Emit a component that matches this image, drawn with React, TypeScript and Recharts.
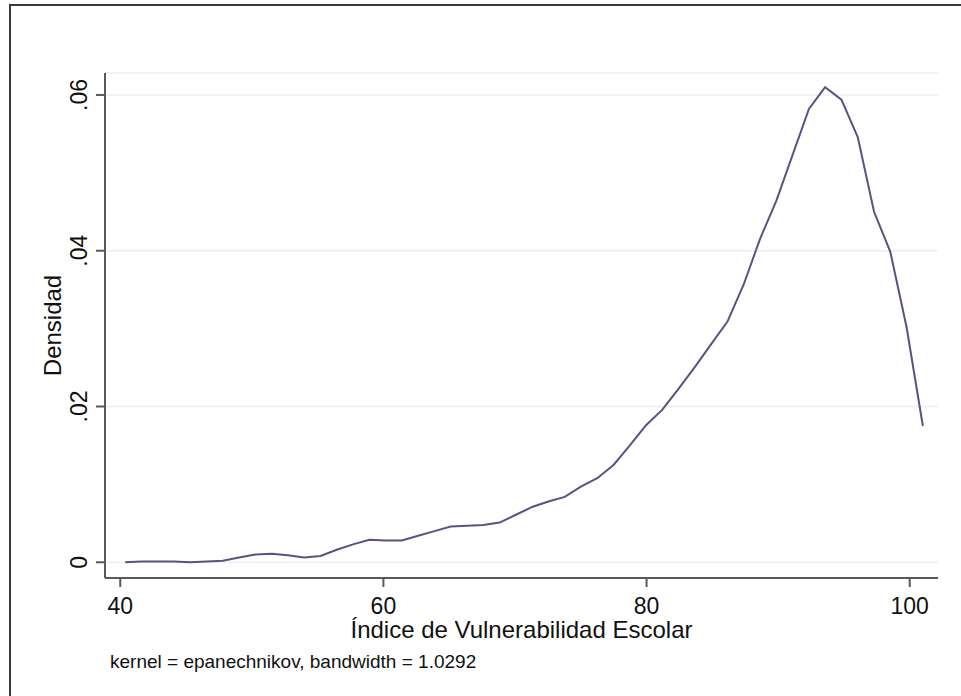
import { LineChart, Line, XAxis, YAxis, CartesianGrid, Label } from 'recharts';

// kdensity evaluation points (50 points between min and max of the index)
const indice = [
  40.37, 41.61, 42.84, 44.08, 45.32, 46.56, 47.79, 49.03, 50.27, 51.51,
  52.74, 53.98, 55.22, 56.45, 57.69, 58.93, 60.17, 61.4, 62.64, 63.88,
  65.12, 66.35, 67.59, 68.83, 70.07, 71.3, 72.54, 73.78, 75.01, 76.25,
  77.49, 78.73, 79.96, 81.2, 82.44, 83.68, 84.91, 86.15, 87.39, 88.62,
  89.86, 91.1, 92.34, 93.57, 94.81, 96.05, 97.29, 98.52, 99.76, 101.0,
];

const densidad = [
  0.0, 0.0001, 0.0001, 0.0001, 0.0, 0.0001, 0.0002, 0.0006, 0.001, 0.0011,
  0.0009, 0.0006, 0.0008, 0.0016, 0.0023, 0.0029, 0.0028, 0.0028, 0.0034, 0.004,
  0.0046, 0.0047, 0.0048, 0.0051, 0.0061, 0.0071, 0.0078, 0.0084, 0.0097, 0.0108,
  0.0125, 0.015, 0.0176, 0.0196, 0.0223, 0.0251, 0.028, 0.0309, 0.0357, 0.0415,
  0.0464, 0.0523, 0.0582, 0.061, 0.0594, 0.0546, 0.045, 0.0399, 0.0302, 0.0175,
];

const xTicks = [40, 60, 80, 100];
const yTicks = [0, 0.02, 0.04, 0.06];
const yTickLabels = ['0', '.02', '.04', '.06'];

const data = indice.map((x, i) => ({ x, y: densidad[i] }));

const FONT = 'Liberation Sans, Arial, sans-serif';
const AXIS = '#595959';

function YTick(props: any) {
  const { x, y, payload } = props;
  const i = yTicks.indexOf(payload.value);
  return (
    <text
      x={x}
      y={y}
      transform={`rotate(-90 ${x} ${y})`}
      textAnchor="middle"
      fontFamily={FONT}
      fontSize={23}
      fill="#111"
    >
      {i >= 0 ? yTickLabels[i] : payload.value}
    </text>
  );
}

export default function App() {
  return (
    <div
      style={{
        position: 'absolute',
        left: 0,
        top: 0,
        width: 961,
        height: 696,
        background: '#fff',
        overflow: 'hidden',
      }}
    >
      <div
        style={{
          position: 'absolute',
          left: 9,
          top: 4,
          width: 1100,
          height: 900,
          borderTop: '2px solid #3a3a3a',
          borderLeft: '2px solid #3a3a3a',
        }}
      />
      <div style={{ position: 'absolute', left: 0, top: 0 }}>
        <LineChart
          width={961}
          height={696}
          data={data}
          margin={{ top: 73, right: 23, bottom: 78, left: 45 }}
        >
          <CartesianGrid horizontal vertical={false} stroke="#e8f0f2" strokeWidth={1.5} />
          <XAxis
            dataKey="x"
            type="number"
            domain={[38.84, 102.15]}
            ticks={xTicks}
            allowDataOverflow
            height={40}
            tickSize={9}
            tickMargin={11}
            stroke={AXIS}
            strokeWidth={2}
            tick={{ fontFamily: FONT, fontSize: 23, fill: '#111' }}
          >
            <Label
              content={() => (
                <g>
                  <text x={521.5} y={638} textAnchor="middle" fontFamily={FONT} fontSize={24} fill="#111">
                    Índice de Vulnerabilidad Escolar
                  </text>
                  <text x={110} y={668} fontFamily={FONT} fontSize={19} fill="#111">
                    kernel = epanechnikov, bandwidth = 1.0292
                  </text>
                </g>
              )}
            />
          </XAxis>
          <YAxis
            type="number"
            domain={[-0.00202, 0.06282]}
            ticks={yTicks}
            allowDataOverflow
            width={60}
            tickSize={9}
            tickMargin={9}
            stroke={AXIS}
            strokeWidth={2}
            tick={<YTick />}
          >
            <Label
              content={() => (
                <text
                  x={61}
                  y={325.5}
                  transform="rotate(-90 61 325.5)"
                  textAnchor="middle"
                  fontFamily={FONT}
                  fontSize={24}
                  fill="#111"
                >
                  Densidad
                </text>
              )}
            />
          </YAxis>
          <Line
            type="linear"
            dataKey="y"
            stroke="#55557f"
            strokeWidth={2}
            dot={false}
            isAnimationActive={false}
          />
        </LineChart>
      </div>
    </div>
  );
}
